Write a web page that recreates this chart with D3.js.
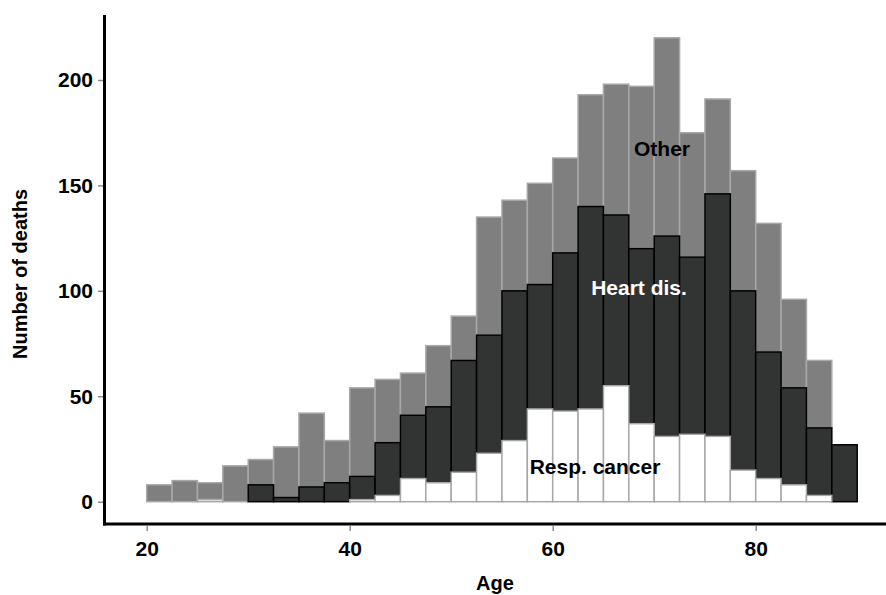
<!DOCTYPE html>
<meta charset="utf-8">
<style>
  body { margin: 0; background: #fff; }
  svg { display: block; font-family: "Liberation Sans", Arial, Helvetica, sans-serif; font-weight: bold; }
  .axis .domain { display: none; }
  .axis line { stroke: #8c8c8c; stroke-width: 1.5px; }
  .axis text { font-size: 21px; font-weight: bold; fill: #000; }
</style>
<body>
<script src="https://d3js.org/d3.v7.min.js"></script>
<script>

// age bins, 2.5 years wide
var binStart = [20, 22.5, 25, 27.5, 30, 32.5, 35, 37.5, 40, 42.5, 45, 47.5, 50, 52.5,
                55, 57.5, 60, 62.5, 65, 67.5, 70, 72.5, 75, 77.5, 80, 82.5, 85, 87.5];
var binWidth = 2.5;

// deaths per bin, by cause
var cancer = [0, 0, 1, 0, 0, 0, 0, 0, 1, 3, 11, 9, 14, 23,
              29, 44, 43, 44, 55, 37, 31, 32, 31, 15, 11, 8, 3, 0];
var heart  = [0, 0, 0, 0, 8, 2, 7, 9, 11, 25, 30, 36, 53, 56,
              71, 59, 75, 96, 81, 83, 95, 84, 115, 85, 60, 46, 32, 27];
var other  = [8, 10, 8, 17, 12, 24, 35, 20, 42, 30, 20, 29, 21, 56,
              43, 48, 45, 53, 62, 77, 94, 59, 45, 57, 61, 42, 32, 0];

var xTicks = [20, 40, 60, 80];
var yTicks = [0, 50, 100, 150, 200];

var width = 886, height = 595;

var x = d3.scaleLinear().domain([20, 90]).range([146.7, 857.2]);
var y = d3.scaleLinear().domain([0, 200]).range([501.7, 80]);

var rows = binStart.map(function(b, i) {
  return {start: b, cancer: cancer[i], heart: heart[i], other: other[i]};
});
var layers = d3.stack().keys(["cancer", "heart", "other"])(rows);

var style = {
  other:  {fill: "#7f7f7f", stroke: "#a8a8a8"},
  heart:  {fill: "#323434", stroke: "#000"},
  cancer: {fill: "#ffffff", stroke: "#a8a8a8"}
};

var svg = d3.select("body").append("svg")
    .attr("width", width)
    .attr("height", height);

// draw top layer first so lower outlines sit on top
svg.append("g").selectAll("g")
    .data(layers.slice().reverse())
  .enter().append("g")
    .attr("fill", function(d) { return style[d.key].fill; })
    .attr("stroke", function(d) { return style[d.key].stroke; })
    .attr("stroke-width", 1.5)
  .selectAll("rect")
    .data(function(d) { return d; })
  .enter().append("rect")
    .attr("x", function(d) { return x(d.data.start); })
    .attr("width", function(d) { return x(d.data.start + binWidth) - x(d.data.start); })
    .attr("y", function(d) { return y(d[1]); })
    .attr("height", function(d) { return y(d[0]) - y(d[1]); });

// axes
svg.append("g")
    .attr("class", "axis")
    .attr("transform", "translate(103,0)")
    .call(d3.axisLeft(y).tickValues(yTicks).tickSize(5).tickPadding(5));

svg.append("g")
    .attr("class", "axis")
    .attr("transform", "translate(0,526)")
    .call(d3.axisBottom(x).tickValues(xTicks).tickSize(5).tickPadding(10));

svg.append("line")
    .attr("x1", 104.5).attr("x2", 104.5)
    .attr("y1", 15).attr("y2", 525.5)
    .attr("stroke", "#000").attr("stroke-width", 3);

svg.append("line")
    .attr("x1", 103).attr("x2", width)
    .attr("y1", 524).attr("y2", 524)
    .attr("stroke", "#000").attr("stroke-width", 3);

// labels inside the plot
svg.append("text")
    .attr("x", 662).attr("y", 156)
    .attr("text-anchor", "middle")
    .style("font-size", "21px")
    .attr("fill", "#000")
    .text("Other");

svg.append("text")
    .attr("x", 639).attr("y", 295)
    .attr("text-anchor", "middle")
    .style("font-size", "21px")
    .attr("fill", "#fff")
    .text("Heart dis.");

svg.append("text")
    .attr("x", 595).attr("y", 474)
    .attr("text-anchor", "middle")
    .style("font-size", "21px")
    .attr("fill", "#000")
    .text("Resp. cancer");

// axis titles
svg.append("text")
    .attr("x", 495).attr("y", 590)
    .attr("text-anchor", "middle")
    .style("font-size", "20px")
    .text("Age");

svg.append("text")
    .attr("transform", "translate(27,274) rotate(-90)")
    .attr("text-anchor", "middle")
    .style("font-size", "20px")
    .text("Number of deaths");

</script>
</body>
